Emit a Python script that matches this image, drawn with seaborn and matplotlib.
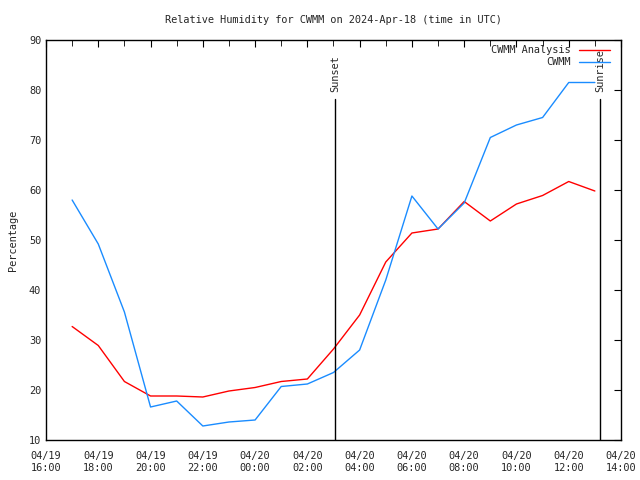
import pandas as pd
import numpy as np
import matplotlib
matplotlib.use('Agg')
import matplotlib.pyplot as plt
import matplotlib.dates as mdates
import seaborn as sns

# data (hourly, 04/19 17:00 -> 04/20 13:00 UTC)
times = pd.date_range('2024-04-19 17:00', '2024-04-20 13:00', freq='h')
analysis = [32.7, 28.9, 21.7, 18.8, 18.8, 18.6, 19.8, 20.5, 21.7, 22.2, 28.2,
            35.0, 45.6, 51.4, 52.2, 57.7, 53.8, 57.2, 58.9, 61.7, 59.8]
cwmm = [58.0, 49.2, 35.6, 16.6, 17.8, 12.8, 13.6, 14.0, 20.7, 21.2, 23.5,
        28.0, 42.0, 58.8, 52.2, 57.4, 70.5, 73.0, 74.5, 81.5, 81.5]
sunset = pd.Timestamp('2024-04-20 03:04')
sunrise = pd.Timestamp('2024-04-20 13:12')

df = pd.DataFrame({'time': list(times) * 2,
                   'value': analysis + cwmm,
                   'series': ['CWMM Analysis'] * len(times) + ['CWMM'] * len(times)})

sns.set_style('white')
plt.rcParams['font.family'] = ['DejaVu Sans Mono']
fs = 7.4

fig = plt.figure(figsize=(6.4, 4.8), dpi=100)
ax = fig.add_axes([46 / 640, 1 - 440 / 480, 575 / 640, 400 / 480])

sns.lineplot(data=df, x='time', y='value', hue='series',
             palette={'CWMM Analysis': '#ff0000', 'CWMM': '#1a8cff'},
             linewidth=1, ax=ax)

# sunset / sunrise markers
for t, name in [(sunset, 'Sunset'), (sunrise, 'Sunrise')]:
    ax.plot([t, t], [10, 78.2], color='black', linewidth=1)
    ax.text(t, 79.5, name, rotation=90, ha='center', va='bottom', fontsize=fs)

ax.set_xlim(pd.Timestamp('2024-04-19 16:00'), pd.Timestamp('2024-04-20 14:00'))
ax.set_ylim(10, 90)
ax.set_yticks(range(10, 91, 10))
ax.xaxis.set_major_locator(mdates.HourLocator(byhour=range(0, 24, 2)))
ax.xaxis.set_minor_locator(mdates.HourLocator())
ax.xaxis.set_major_formatter(mdates.DateFormatter('%m/%d\n%H:%M'))
ax.tick_params(axis='both', which='both', direction='in', top=True, right=True,
               labelsize=fs, color='black')
ax.tick_params(which='major', length=5)
ax.tick_params(which='minor', length=4)
ax.tick_params(axis='x', pad=8)
for s in ax.spines.values():
    s.set_color('black')
    s.set_linewidth(1)

ax.set_xlabel('')
ax.set_ylabel('Percentage', fontsize=fs, labelpad=8)
ax.set_title('Relative Humidity for CWMM on 2024-Apr-18 (time in UTC)', fontsize=fs, pad=12)

leg = ax.legend(loc='upper right', bbox_to_anchor=(0.99, 1.0), frameon=False,
                fontsize=fs, markerfirst=False, handlelength=3,
                borderaxespad=0.1, labelspacing=0.2)

fig.savefig('out.png', dpi=100)
